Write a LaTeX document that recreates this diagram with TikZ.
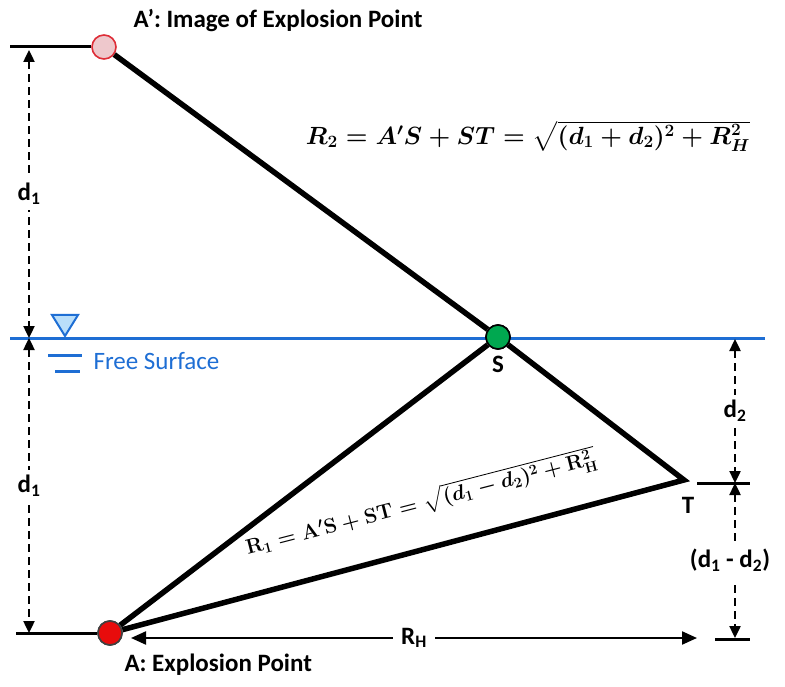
\documentclass[tikz,border=0pt]{standalone}
\usepackage{fontspec}
\setmainfont{Carlito}
\usepackage{amsmath}
\usetikzlibrary{arrows.meta}
\definecolor{waterblue}{RGB}{30,110,212}
\definecolor{trifill}{RGB}{185,222,250}
\definecolor{imgfill}{RGB}{238,200,204}
\definecolor{imgred}{RGB}{222,45,55}
\definecolor{srcred}{RGB}{232,12,12}
\definecolor{sgreen}{RGB}{0,168,80}
\tikzset{
	ray/.style={draw=black,line width=5.5pt},
	tickln/.style={draw=black,line width=3pt},
	dimarr/.style={{Triangle[length=12pt,width=11pt]}-{Triangle[length=12pt,width=11pt]},line width=2.4pt,dash pattern=on 8pt off 5pt},
	lbl/.style={font=\fontsize{25}{28}\selectfont\bfseries}
}
\begin{document}
\begin{tikzpicture}[x=1pt,y=-1pt,
			pnt/.style={circle,line width=1.6pt,minimum size=24pt,inner sep=0pt},
			water/.style={draw=waterblue,line width=3pt},
			rharr/.style={{Triangle[length=15pt,width=13pt]}-{Triangle[length=15pt,width=13pt]},line width=2.2pt},
			gap/.style={fill=white,inner sep=5pt,lbl}]
			\useasboundingbox (0,0) rectangle (785,687);
			% water surface
			\draw[water] (10,338) -- (765,338);
			\draw[waterblue,fill=trifill,line width=2pt,line join=miter] (52,315) -- (78,315) -- (65,336) -- cycle;
			\draw[water] (48,355) -- (82,355);
			\draw[water] (55,371) -- (80,371);
			\node[anchor=west,text=waterblue,font=\fontsize{25}{28}\selectfont] (fs) at (90,361) {Free Surface};
			% points
			\node[pnt,draw=imgred,fill=imgfill] (Ap) at (104,47) {};
			\node[pnt,draw=black!75,fill=srcred] (A) at (110,633) {};
			\node[pnt,draw=black,fill=sgreen] (S) at (498,337) {};
			\coordinate (T) at (684,480);
			% rays
			\draw[ray] (Ap) -- (S);
			\draw[ray,line join=miter] (S) -- (T) -- (A);
			\draw[ray] (A) -- (S);
			\node[pnt,draw=black,fill=sgreen] at (S) {};
			\node[pnt,draw=black!75,fill=srcred] at (A) {};
			% ticks
			\draw[tickln] (10,47) -- (Ap.west);
			\draw[tickln] (16,633) -- (A.west);
			\draw[tickln] (697,483) -- (750,483);
			\draw[tickln] (715,639) -- (750,639);
			% dimensions
			\coordinate (ltop) at (29,50);
			\coordinate (lmid) at (29,338);
			\coordinate (lbot) at (29,633);
			\coordinate (rtop) at (735,339);
			\coordinate (rmid) at (735,483);
			\coordinate (rbot) at (735,638);
			\draw[dimarr] (ltop) -- node[gap] (d1a) {d\textsubscript{1}} (lmid);
			\draw[dimarr] (lmid) -- node[gap] (d1b) {d\textsubscript{1}} (lbot);
			\draw[dimarr] (rtop) -- node[gap] (d2) {d\textsubscript{2}} (rmid);
			\draw[dimarr] (rmid) -- node[gap,inner sep=8pt,xshift=-5pt] (d12) {(d\textsubscript{1} - d\textsubscript{2})} (rbot);
			\coordinate (rhs) at (131,638);
			\coordinate (rhe) at (697,638);
			\draw[rharr] (rhs) -- node[gap,inner sep=8pt] (rh) {R\textsubscript{H}} (rhe);
			% labels
			\node[lbl,anchor=west] (Aplbl) at (130,21) {A’: Image of Explosion Point};
			\node[lbl,anchor=west] (Albl) at (121,665) {A: Explosion Point};
			\node[lbl] (Slbl) at (498,364) {S};
			\node[lbl] (Tlbl) at (688,505) {T};
			\node[font=\fontsize{27}{30}\selectfont\boldmath] (eq2) at (528,136)
				{$R_2 = A^{\prime}S + ST = \sqrt{(d_1 + d_2)^2 + R_H^2}$};
			\node[font=\fontsize{21}{25}\selectfont\boldmath,rotate=14.5] (eq1) at (421,503)
				{$\mathbf{R}_1 = \mathbf{A}^{\prime}\mathbf{S} + \mathbf{ST} = \sqrt{(d_1 - d_2)^2 + \mathbf{R}_{\mathbf{H}}^2}$};
		\end{tikzpicture}
\end{document}
